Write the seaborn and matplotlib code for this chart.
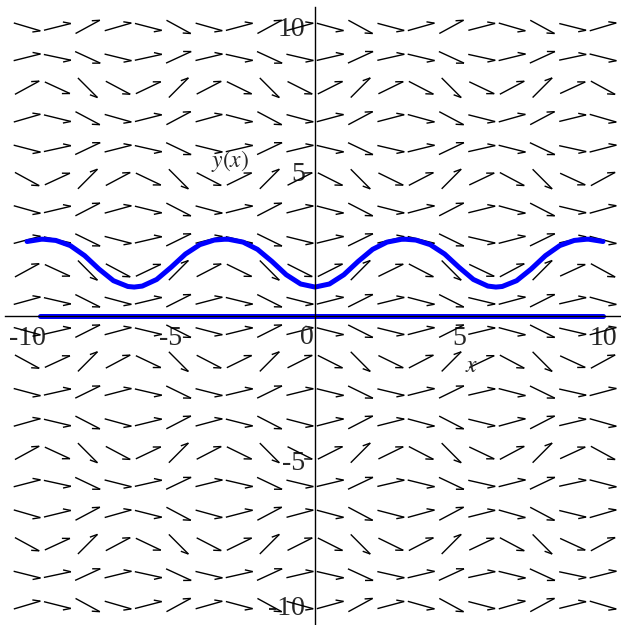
import numpy as np
import matplotlib
matplotlib.use('Agg')
import matplotlib.pyplot as plt
from matplotlib.collections import LineCollection
import seaborn as sns

# direction field grid, 20 x 20 points over -10..10
grid_x = [-10.0, -8.947, -7.895, -6.842, -5.789, -4.737, -3.684, -2.632, -1.579, -0.526,
          0.526, 1.579, 2.632, 3.684, 4.737, 5.789, 6.842, 7.895, 8.947, 10.0]
grid_y = [-10.0, -8.947, -7.895, -6.842, -5.789, -4.737, -3.684, -2.632, -1.579, -0.526,
          0.526, 1.579, 2.632, 3.684, 4.737, 5.789, 6.842, 7.895, 8.947, 10.0]

# slope at (x_i, y_j) = col_factor[i] * row_factor[j]
col_factor = [0.544, -0.459, -0.999, -0.530, 0.474, 1.000, 0.516, -0.488, -1.000, -0.502,
              0.502, 1.000, 0.488, -0.516, -1.000, -0.474, 0.530, 0.999, 0.459, -0.544]
row_factor = [0.544, -0.459, -0.999, -0.530, 0.474, 1.000, 0.516, -0.488, -1.000, -0.502,
              0.502, 1.000, 0.488, -0.516, -1.000, -0.474, 0.530, 0.999, 0.459, -0.544]

# solution curve through y(0)=1
curve_x = [-10.0, -9.5, -9.42, -9.0, -8.5, -8.0, -7.5, -7.0, -6.5, -6.28, -6.0, -5.5, -5.0,
           -4.5, -4.0, -3.5, -3.14, -3.0, -2.5, -2.0, -1.5, -1.0, -0.5, 0.0,
           0.5, 1.0, 1.5, 2.0, 2.5, 3.0, 3.14, 3.5, 4.0, 4.5, 5.0, 5.5, 6.0, 6.28,
           6.5, 7.0, 7.5, 8.0, 8.5, 9.0, 9.42, 9.5, 10.0]
curve_y = [2.576, 2.655, 2.654, 2.613, 2.435, 2.086, 1.620, 1.220, 1.020, 1.000, 1.034, 1.262, 1.683,
           2.143, 2.467, 2.626, 2.654, 2.652, 2.555, 2.305, 1.890, 1.426, 1.106, 1.000,
           1.106, 1.426, 1.890, 2.305, 2.555, 2.652, 2.654, 2.626, 2.467, 2.143, 1.683, 1.262, 1.034, 1.000,
           1.020, 1.220, 1.620, 2.086, 2.435, 2.613, 2.654, 2.655, 2.576]

# equilibrium solution y=0
zero_x = [-9.55, 10.0]
zero_y = [0.0, 0.0]

sns.set_style('white')
plt.rcParams['font.family'] = ['Liberation Serif', 'DejaVu Serif']
plt.rcParams['mathtext.fontset'] = 'stix'

fig = plt.figure(figsize=(6.21, 6.25), dpi=100)
ax = fig.add_axes([0, 0, 1, 1])
ax.set_xlim(-10.94, 10.625)
ax.set_ylim(-10.69, 10.93)

# arrows: fixed length, one-sided barb
half = 0.48
barb = 0.28
alpha = np.deg2rad(25)
segs = []
for j, yv in enumerate(grid_y):
    for i, xv in enumerate(grid_x):
        th = np.arctan(col_factor[i] * row_factor[j])
        dx, dy = half * np.cos(th), half * np.sin(th)
        tip = (xv + dx, yv + dy)
        segs.append([(xv - dx, yv - dy), tip])
        s = 1.0 if th >= 0 else -1.0
        ba = th + np.pi - s * alpha
        segs.append([tip, (tip[0] + barb * np.cos(ba), tip[1] + barb * np.sin(ba))])
ax.add_collection(LineCollection(segs, colors='black', linewidths=1.0, zorder=1))

sns.lineplot(x=curve_x, y=curve_y, color='blue', lw=3.6, sort=False, ax=ax, zorder=2)
sns.lineplot(x=zero_x, y=zero_y, color='blue', lw=3.6, ax=ax, zorder=2)

# Maple-like axes through the origin
for side in ['top', 'right']:
    ax.spines[side].set_visible(False)
ax.spines['left'].set_position(('data', 0))
ax.spines['bottom'].set_position(('data', 0))
ax.spines['bottom'].set_bounds(-10.75, 10.625)
ax.spines['left'].set_bounds(-10.69, 10.7)
for side in ['left', 'bottom']:
    ax.spines[side].set_linewidth(1.0)
    ax.spines[side].set_color('black')
    ax.spines[side].set_zorder(3)

ax.set_xticks([-10, -5, 5, 10])
ax.set_xticklabels(['-10', '-5', '5', '10'])
ax.set_yticks([-10, -5, 5, 10])
ax.set_yticklabels(['-10', '-5', '5', '10'])
minor = [v for v in range(-10, 11) if v % 5 != 0]
ax.set_xticks(minor, minor=True)
ax.set_yticks(minor, minor=True)
ax.tick_params(which='major', direction='out', length=5, width=1, labelsize=20, pad=2)
ax.tick_params(which='minor', direction='out', length=2.5, width=1)
ax.text(-0.05, -0.3, '0', ha='right', va='top', fontsize=20)

ax.text(5.42, -1.75, r'$x$', ha='center', va='center', fontsize=17)
ax.text(-2.95, 5.35, r'$y(x)$', ha='center', va='center', fontsize=17)

plt.savefig('out.png', dpi=100, facecolor='white')
plt.close(fig)
